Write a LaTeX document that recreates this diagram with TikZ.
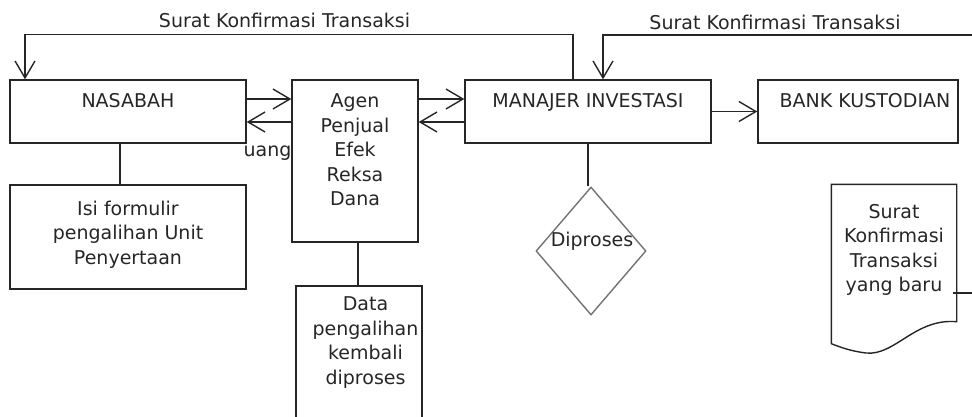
\documentclass[tikz,border=0pt]{standalone}
\usepackage{fontspec}
\setmainfont{DejaVu Sans}
\usetikzlibrary{arrows.meta}
\usetikzlibrary{positioning}
\usetikzlibrary{shapes.geometric}

\begin{document}
\begin{tikzpicture}[->,>={Straight Barb[length=17pt,width=20pt]},x=1pt,y=-1pt,
                    line width=1.4pt,font=\fontsize{19}{24.5}\selectfont,
                    box node/.style={rectangle,draw=black!85,inner sep=0pt},
                    text node/.style={anchor=north,align=center,inner sep=0pt,text=black!85}]

  \useasboundingbox (0,0) rectangle (972,416);
  \clip (0,0) rectangle (972,416);

  % kotak-kotak
  \node[box node, minimum width=236, minimum height=63] (nas) at (128,111.5) {};
  \node[box node, minimum width=126, minimum height=162] (agen) at (355,161) {};
  \node[box node, minimum width=246, minimum height=63] (mi) at (588,111.5) {};
  \node[box node, minimum width=200, minimum height=63] (bank) at (858,111.5) {};
  \node[box node, minimum width=236, minimum height=104] (isi) at (128,237) {};
  \node[box node, minimum width=126, minimum height=150] (data) at (359,361) {};
  \node[diamond, draw=black!55, minimum width=110, minimum height=128, inner sep=0pt] (dia) at (591,251) {};
  \node[rectangle, minimum width=124, minimum height=158, inner sep=0pt] (dok) at (894,264) {};

  % teks
  \node[text node] (nasteks) at ([yshift=-13pt]nas.north) {NASABAH};
  \node[text node] (agenteks) at ([yshift=-14pt]agen.north) {Agen\\Penjual\\Efek\\Reksa\\Dana};
  \node[text node] (miteks) at ([yshift=-13pt]mi.north) {MANAJER INVESTASI};
  \node[text node] (bankteks) at ([xshift=7pt,yshift=-13pt]bank.north) {BANK KUSTODIAN};
  \node[text node] (isiteks) at ([yshift=-16pt]isi.north) {Isi formulir\\pengalihan Unit\\Penyertaan};
  \node[text node] (datateks) at ([xshift=6.5pt,yshift=-11pt]data.north) {Data\\pengalihan\\kembali\\diproses};
  \node[text node] (dokteks) at ([yshift=-19pt]dok.north) {Surat\\Konfirmasi\\Transaksi\\yang baru};
  \node[text node, anchor=base] (diateks) at (592,246) {Diproses};
  \node[text node, anchor=base] (uang) at (267.5,156) {uang};
  \node[text node, anchor=base] (surat1) at (284.5,27) {Surat Konfirmasi Transaksi};
  \node[text node, anchor=base] (surat2) at (775,29) {Surat Konfirmasi Transaksi};

  \coordinate (kanan) at (972,35);
  \coordinate (tepi) at (972,293);

  % panah
  \draw[draw=black!85] ([yshift=12.5pt]nas.east) -- ([yshift=12.5pt]nas.east -| agen.west);
  \draw[draw=black!85] ([yshift=-10.5pt]nas.east -| agen.west) -- ([yshift=-10.5pt]nas.east);
  \draw[draw=black!85] ([yshift=12.5pt]agen.east |- nas.east) -- ([yshift=12.5pt]mi.west);
  \draw[draw=black!85] ([yshift=-10.5pt]mi.west) -- ([yshift=-10.5pt]agen.east |- mi.west);
  \draw[draw=black!85] (mi.east) -- (bank.west);

  \draw[draw=black!85] ([xshift=-15pt]mi.north) -- ++(0,-45) -| ([xshift=-103pt]nas.north);
  \draw[draw=black!85] (kanan) -| ([xshift=15pt]mi.north);

  % garis
  \draw[-, draw=black!85]
    ([xshift=-8pt]nas.south) edge ([xshift=-8pt]isi.north)
    ([xshift=3pt]agen.south) edge ([xshift=3pt]agen.south |- data.north)
    (mi.south) edge (mi.south |- dia.north)
    ([xshift=-4pt]tepi -| dok.east) edge (tepi);

  % dokumen
  \draw[-, draw=black!85] (dok.north west) -- (dok.north east) -- ([yshift=22pt]dok.south east)
    .. controls (915,318) and (895,356) .. (866,353)
    .. controls (850,351) and (840,347) .. (dok.south west) -- cycle;
\end{tikzpicture}
\end{document}
